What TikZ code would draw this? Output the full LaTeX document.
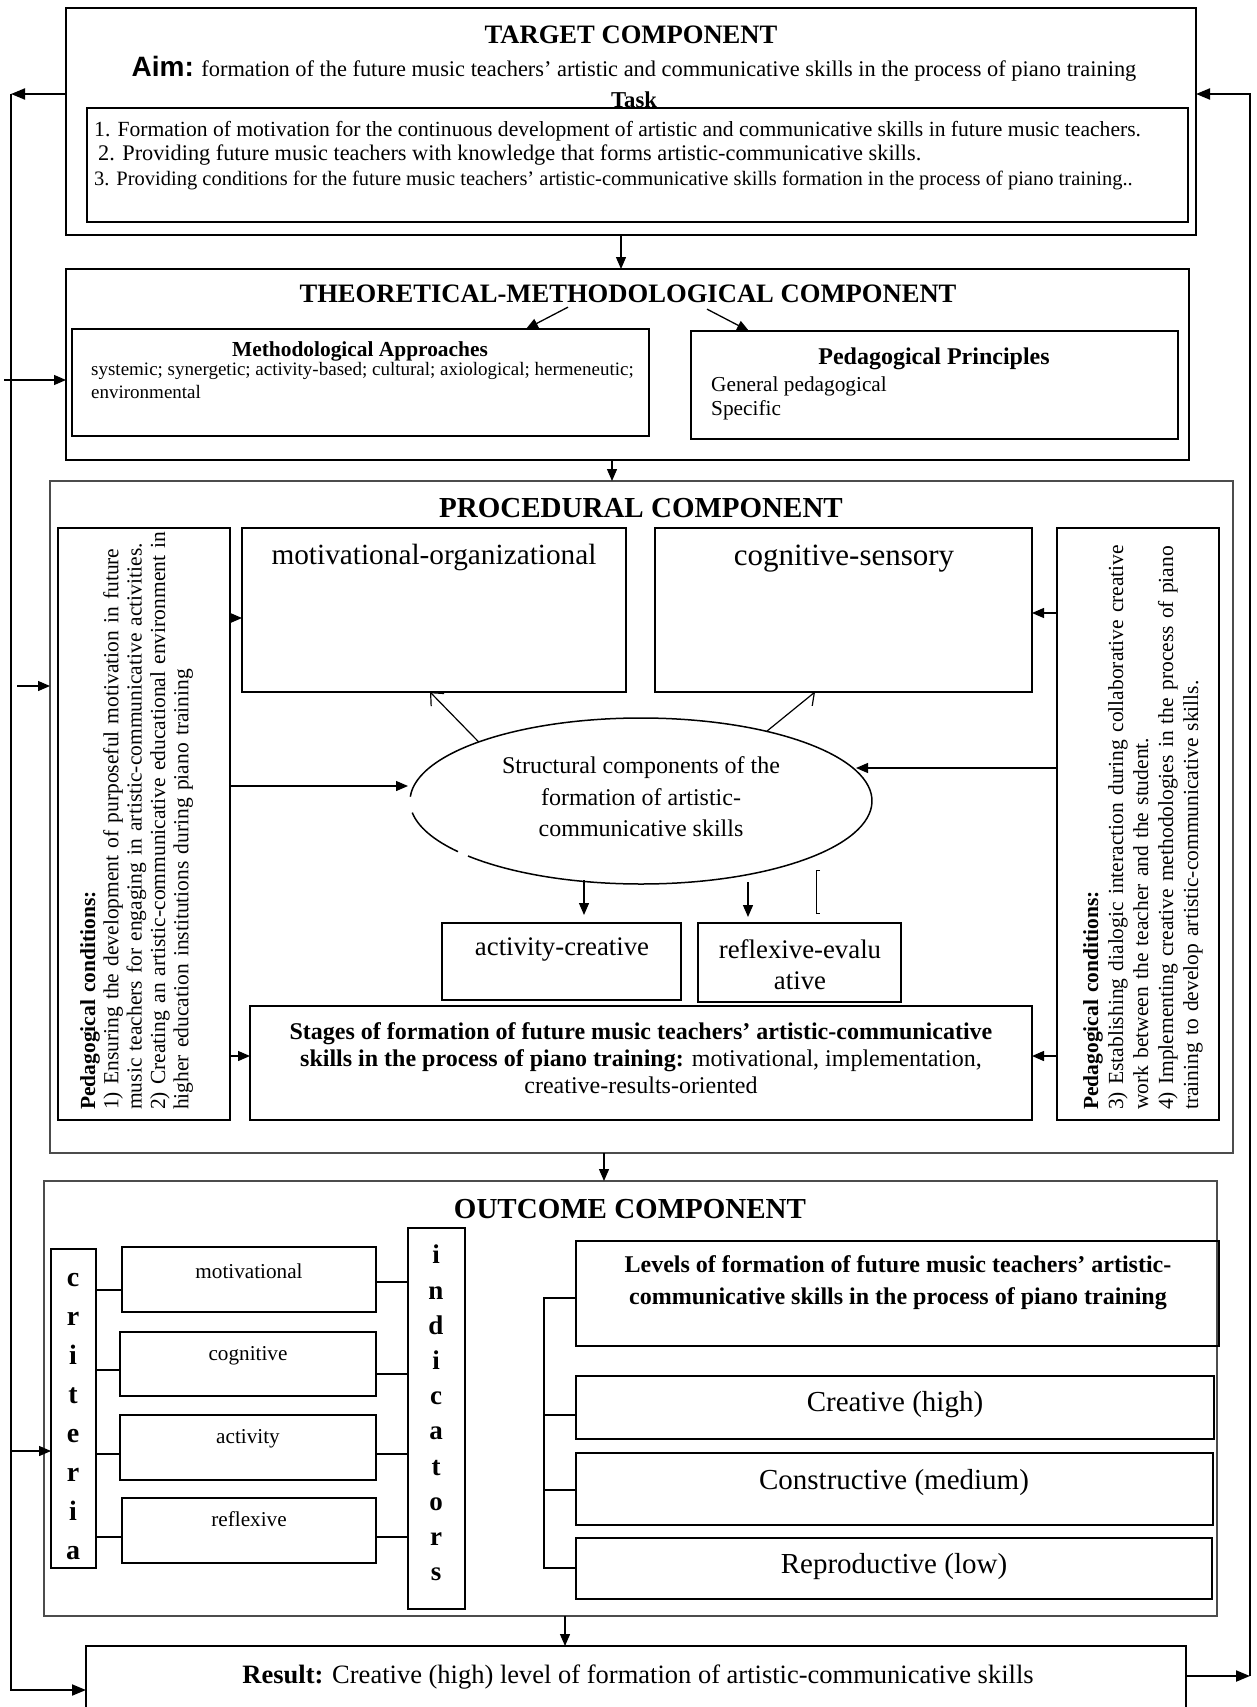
\documentclass[tikz,border=0pt]{standalone}
\usepackage{fontspec}
\setmainfont{Liberation Serif}
\newfontfamily\aimfont{Liberation Sans}
\usetikzlibrary{arrows.meta,fit,shapes.geometric,calc}
\setlength{\parindent}{0pt}
\newcommand\fsz[2]{\fontsize{#1}{#2}\selectfont}
\newcommand\jl[1]{\makebox[574pt][s]{#1}}
\begin{document}
\begin{tikzpicture}[x=1pt,y=-1pt,
  thickbox/.style={draw, line width=2.6pt, inner sep=0pt, outer sep=0pt},
  medbox/.style={draw, line width=2pt, inner sep=0pt, outer sep=0pt},
  thinbox/.style={draw, line width=1.2pt, inner sep=0pt, outer sep=0pt},
  graybox/.style={draw=black!70, line width=1.5pt, inner sep=0pt, outer sep=0pt},
  txt/.style={inner sep=0pt, align=center},
  ltxt/.style={inner sep=0pt, anchor=west},
  rot/.style={rotate=90, anchor=north west, inner sep=0pt, text width=574pt, align=left},
  arr/.style={line width=1.3pt, -{Triangle[length=12pt,width=10pt]}},
  oarr/.style={line width=1.2pt, -{Straight Barb[length=10pt,width=18pt]}},
  feed/.style={line width=2pt, -{Triangle[length=14pt,width=11pt]}},
  conn/.style={line width=1.6pt},
  ellline/.style={line width=1.5pt}]
\useasboundingbox (0,0) rectangle (1256,1707);

% ---------------- target component
\node[thickbox, fit={(66,8)(1196,235)}] (tg) {};
\node[txt, font=\bfseries\fsz{26.6}{30}] (tgt) at (631,35) {TARGET COMPONENT};
\node[txt, font=\fsz{22.4}{26}] (aim) at (634,69) {{\aimfont\bfseries\fsz{28}{30}Aim:} formation of the future music teachers’ artistic and communicative skills in the process of piano training};
\node[thinbox, fit={(87,108)(1188,222)}] (tb) {};
\node[txt, font=\bfseries\fsz{22.7}{26}] (task) at (634,100) {Task};
\node[ltxt, font=\fsz{21.6}{24}] (t1) at (94,131) {1. Formation of motivation for the continuous development of artistic and communicative skills in future music teachers.};
\node[ltxt, font=\fsz{22.3}{24}] (t2) at (98,155) {2. Providing future music teachers with knowledge that forms artistic-communicative skills.};
\node[ltxt, font=\fsz{20.5}{24}] (t3) at (94,180) {3. Providing conditions for the future music teachers’ artistic-communicative skills formation in the process of piano training..};

% ---------------- theoretical-methodological component
\node[thickbox, fit={(66,269)(1189,460)}] (th) {};
\node[txt, font=\bfseries\fsz{26.6}{30}] (tht) at (628,294) {THEORETICAL-METHODOLOGICAL COMPONENT};
\node[medbox, fit={(72,329)(649,436)}] (ma) {};
\node[medbox, fit={(691,331)(1178,439)}] (pp) {};
\node[txt, font=\bfseries\fsz{21.4}{24}] (mat) at (360,351) {Methodological Approaches};
\node[ltxt, font=\fsz{19}{21}] (ma1) at (91,371) {systemic; synergetic; activity-based; cultural; axiological; hermeneutic;};
\node[ltxt, font=\fsz{19}{21}] (ma2) at (91,392) {environmental};
\node[txt, font=\bfseries\fsz{24}{28}] (ppt) at (934,359) {Pedagogical Principles};
\node[ltxt, font=\fsz{21.3}{24}] (pp1) at (711,386) {General pedagogical};
\node[ltxt, font=\fsz{21.3}{24}] (pp2) at (711,410) {Specific};
\draw[arr] ([xshift=-60pt,yshift=-4pt]tht.south) -- (ma.north -| 526,0);
\draw[arr] ([xshift=79pt,yshift=-6pt]tht.south) -- (pp.north -| 749,0);
\draw[arr] (tg.south -| 621,0) -- (th.north -| 621,0);

% ---------------- procedural component
\node[graybox, fit={(50,481)(1233,1153)}] (pr) {};
\draw[arr] (th.south -| 612,0) -- (pr.north -| 612,0);
\node[txt, font=\bfseries\fsz{29}{33}] (prt) at (641,508) {PROCEDURAL COMPONENT};
\node[medbox, fit={(58,528)(230,1120)}] (lc) {};
\node[medbox, fit={(1057,528)(1219,1120)}] (rc) {};
\node[medbox, fit={(242,528)(626,692)}] (mo) {};
\node[medbox, fit={(655,528)(1032,692)}] (cs) {};
\node[txt, font=\fsz{29.3}{34}] (mot) at (434,557) {motivational-organizational};
\node[txt, font=\fsz{31}{36}] (cst) at (844,559) {cognitive-sensory};

\node[rot, font=\fsz{21.5}{23.3}] (lct) at (80,1110) {\textbf{Pedagogical conditions:}\\\jl{1) Ensuring the development of purposeful motivation in future}\\music teachers for engaging in artistic-communicative activities.\\\jl{2) Creating an artistic-communicative educational environment in}\\higher education institutions during piano training};
\node[rot, font=\fsz{21.5}{25}] (rct) at (1083,1110) {\textbf{Pedagogical conditions:}\\\jl{3) Establishing dialogic interaction during collaborative creative}\\work between the teacher and the student.\\\jl{4) Implementing creative methodologies in the process of piano}\\training to develop artistic-communicative skills.};

\node[ellipse, minimum width=462pt, minimum height=166pt, inner sep=0pt, outer sep=0pt] (E) at (641,801) {};
\draw[ellline] ([shift={(188:231pt and 83pt)}]E.center) arc[start angle=188, end angle=217.6, x radius=231pt, y radius=83pt];
\draw[ellline] ([shift={(221.5:231pt and 83pt)}]E.center) arc[start angle=221.5, end angle=537, x radius=231pt, y radius=83pt];
\node[txt, font=\fsz{24}{31.5}] (Et) at (641,797) {Structural components of the\\formation of artistic-\\communicative skills};

\draw[oarr] (E.160) -- ([xshift=188pt]mo.south west);
\draw[oarr] (E.29) -- ([xshift=160pt]cs.south west);

\node[medbox, fit={(442,923)(681,1000)}] (ac) {};
\node[medbox, fit={(698,923)(901,1002)}] (re) {};
\node[txt, font=\fsz{26.8}{31}] (act) at (562,950) {activity-creative};
\node[txt, font=\fsz{26.8}{31}] (ret) at (800,965) {reflexive-evalu\\ative};
\node[thickbox, fit={(250,1006)(1032,1120)}] (st) {};
\node[txt, font=\fsz{24}{27}] (stt) at (641,1058) {\textbf{Stages of formation of future music teachers’ artistic-communicative}\\\textbf{skills in the process of piano training:} motivational, implementation,\\creative-results-oriented};

\draw[arr] (584,880) -- (584,915);
\draw[arr] (748,882) -- (748,917);
\draw[line width=1pt] (820,870) -- (816,870) -- (816,913) -- (820,913);

\draw[arr] (lc.east |- 0,618) -- (mo.west |- 0,618);
\draw[arr] (lc.east |- 0,786) -- (408,786);
\draw[arr] (lc.east |- 0,1056) -- (st.west |- 0,1056);
\draw[arr] (rc.west |- 0,613) -- (cs.east |- 0,613);
\draw[arr] (rc.west |- 0,768) -- (856,768);
\draw[arr] (rc.west |- 0,1056) -- (st.east |- 0,1056);

% ---------------- outcome component
\node[graybox, fit={(44,1181)(1217,1616)}] (oc) {};
\draw[arr] (pr.south -| 604,0) -- (oc.north -| 604,0);
\node[txt, font=\bfseries\fsz{29}{33}] (oct) at (630,1209) {OUTCOME COMPONENT};
\node[thinbox, fit={(51,1249)(96,1568)}] (cr) {};
\node[txt, font=\bfseries\fsz{28}{39}] (crt) at (73,1417) {c\\r\\i\\t\\e\\r\\i\\a};
\node[thinbox, fit={(408,1228)(465,1609)}] (in) {};
\node[txt, font=\bfseries\fsz{27}{35.2}] (int) at (436,1413) {i\\n\\d\\i\\c\\a\\t\\o\\r\\s};
\node[thinbox, fit={(122,1247)(376,1312)}] (b1) {};
\node[thinbox, fit={(120,1332)(376,1396)}] (b2) {};
\node[thinbox, fit={(120,1415)(376,1480)}] (b3) {};
\node[thinbox, fit={(122,1498)(376,1563)}] (b4) {};
\node[txt, font=\fsz{21.2}{24}] (b1t) at (249,1271) {motivational};
\node[txt, font=\fsz{21.2}{24}] (b2t) at (248,1356) {cognitive};
\node[txt, font=\fsz{21.2}{24}] (b3t) at (248,1439) {activity};
\node[txt, font=\fsz{21.2}{24}] (b4t) at (249,1519) {reflexive};
\draw[conn] (cr.east |- 0,1290) -- (b1.west |- 0,1290);
\draw[conn] (cr.east |- 0,1370) -- (b2.west |- 0,1370);
\draw[conn] (cr.east |- 0,1454) -- (b3.west |- 0,1454);
\draw[conn] (cr.east |- 0,1537) -- (b4.west |- 0,1537);
\draw[conn] (b1.east |- 0,1282) -- (in.west |- 0,1282);
\draw[conn] (b2.east |- 0,1374) -- (in.west |- 0,1374);
\draw[conn] (b3.east |- 0,1454) -- (in.west |- 0,1454);
\draw[conn] (b4.east |- 0,1537) -- (in.west |- 0,1537);

\node[thinbox, fit={(576,1241)(1219,1346)}] (lv) {};
\node[txt, font=\bfseries\fsz{24}{32}] (lvt) at (898,1283) {Levels of formation of future music teachers’ artistic-\\communicative skills in the process of piano training};
\node[thinbox, fit={(576,1376)(1214,1439)}] (l1) {};
\node[thinbox, fit={(576,1453)(1213,1525)}] (l2) {};
\node[thinbox, fit={(576,1538)(1212,1599)}] (l3) {};
\node[txt, font=\fsz{29}{33}] (l1t) at (895,1405) {Creative (high)};
\node[txt, font=\fsz{29}{33}] (l2t) at (894,1483) {Constructive (medium)};
\node[txt, font=\fsz{29}{33}] (l3t) at (894,1567) {Reproductive (low)};
\draw[conn] (lv.west |- 0,1298) -| (544,1568) -- (l3.west |- 0,1568);
\draw[conn] (544,1415) -- (l1.west |- 0,1415);
\draw[conn] (544,1490) -- (l2.west |- 0,1490);

% ---------------- result
\node[inner sep=0pt, outer sep=0pt, fit={(86,1646)(1186,1707)}] (rs) {};
\draw[line width=2.6pt] (rs.south west) -- (rs.north west) -- (rs.north east) -- (rs.south east);
\draw[arr] (oc.south -| 565,0) -- (rs.north -| 565,0);
\node[txt, font=\fsz{26.5}{30}] (rst) at (638,1677) {\textbf{Result:} Creative (high) level of formation of artistic-communicative skills};

% ---------------- feedback loops
\draw[feed] (tg.west |- 0,94) -- (11,94);
\draw[feed] (11,94) -- (11,1690) -- (rs.west |- 0,1690);
\draw[arr] (4,380) -- (th.west |- 0,380);
\draw[arr] (17,686) -- (pr.west |- 0,686);
\draw[arr] (11,1451) -- (cr.west |- 0,1451);
\draw[feed] (rs.east |- 0,1676) -- (1250,1676);
\draw[feed] (1250,1676) -- (1250,94) -- (tg.east |- 0,94);
\end{tikzpicture}
\end{document}
